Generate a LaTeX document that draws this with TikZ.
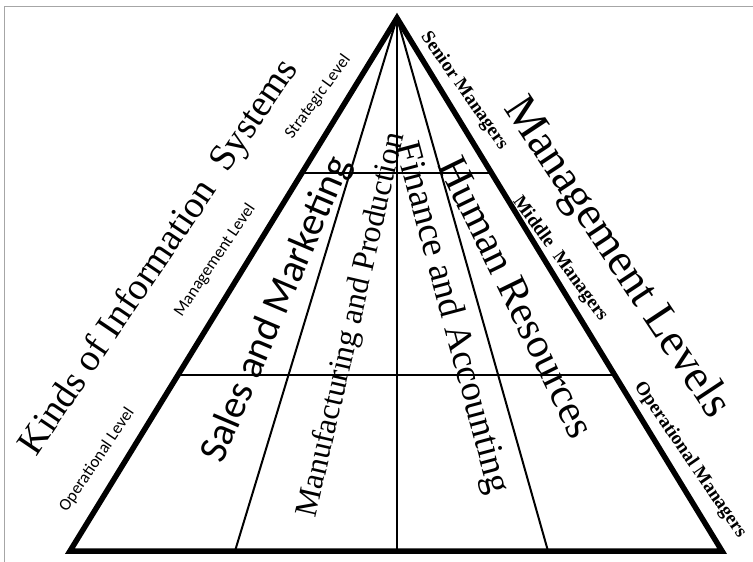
\documentclass[tikz,border=0pt]{standalone}
\usepackage{fontspec}
\setmainfont{Liberation Serif}
\newfontfamily\calibri{Carlito}
\usetikzlibrary{calc}

\tikzset{
  edge/.style={line width=5.5pt, line join=miter},
  divider/.style={line width=2pt},
  levelline/.style={line width=1.5pt},
  sanslabel/.style={font=\calibri\fontsize{17}{17}\selectfont, inner sep=0pt},
  mgrlabel/.style={font=\bfseries\fontsize{19}{19}\selectfont, inner sep=0pt},
  bigtext/.style={inner sep=0pt},
}

\begin{document}
\begin{tikzpicture}[x=1pt, y=-1pt]
  \useasboundingbox (0,0) rectangle (753,562);
  \draw[gray!70, line width=1pt] (4,562) -- (4,6) -- (753,6);

  \coordinate (apex) at (397,18);
  \coordinate (bl) at (70,551);
  \coordinate (br) at (722,551);

  %% level lines
  \draw[levelline] ($(apex)!0.2908!(bl)$) -- ($(apex)!0.2908!(br)$);
  \draw[levelline] ($(apex)!0.6698!(bl)$) -- ($(apex)!0.6698!(br)$);

  %% functional areas
  \draw[divider] (apex) -- (235,551);
  \draw[divider] (apex) -- (397,551);
  \draw[divider] (apex) -- (548,551);

  \draw[edge] (apex) -- (bl) -- (br) -- cycle;

  %% left side
  \node[bigtext, rotate=56, font=\fontsize{38}{38}\selectfont] (kinds) at (160,258)
    {Kinds of Information\ \ Systems};
  \node[sanslabel, rotate=54] (strategic) at (318,97) {Strategic Level};
  \node[sanslabel, rotate=56] (management) at (215,260) {Management Level};
  \node[sanslabel, rotate=56] (operational) at (97,460) {Operational Level};

  %% inside
  \node[bigtext, rotate=67, font=\calibri\fontsize{40}{40}\selectfont] (sales) at (277,310)
    {Sales and Marketing};
  \node[bigtext, rotate=77, font=\fontsize{32}{32}\selectfont] (manufacturing) at (352,325)
    {Manufacturing and Production};
  \node[bigtext, rotate=-75, font=\fontsize{37}{37}\selectfont] (finance) at (451,318)
    {Finance and Accounting};
  \node[bigtext, rotate=-64, font=\fontsize{42}{42}\selectfont] (human) at (517,297)
    {Human Resources};

  %% right side
  \node[bigtext, rotate=-56.5, font=\fontsize{46}{46}\selectfont] (levels) at (616,258)
    {Management Levels};
  \node[mgrlabel, rotate=-55] (senior) at (464,91) {Senior Managers};
  \node[mgrlabel, rotate=-54] (middle) at (560,259) {Middle\ \ Managers};
  \node[mgrlabel, rotate=-55.5] (opmgr) at (690,460) {Operational Managers};
\end{tikzpicture}
\end{document}
